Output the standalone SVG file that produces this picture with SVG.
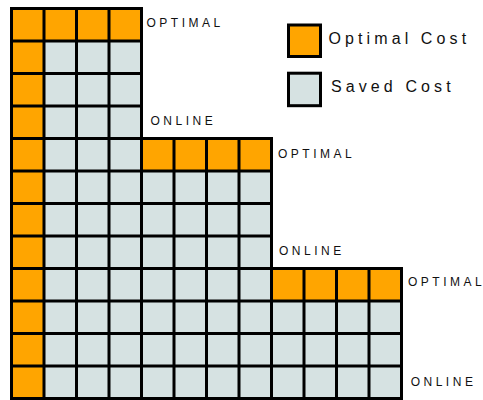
<svg xmlns="http://www.w3.org/2000/svg" width="483" height="400" viewBox="0 0 483 400">
<style>
.opt{fill:#FFA500}
.sav{fill:#D6E2E2}
.grid{fill:none;stroke:#000;stroke-width:3;stroke-linecap:square}
.lbl{font-family:"Liberation Sans",Arial,sans-serif;font-size:12px;letter-spacing:3.5px;fill:#111}
.leg{font-family:"Liberation Sans",Arial,sans-serif;font-size:16px;letter-spacing:4.1px;fill:#111}
.box{stroke:#000;stroke-width:3}
.last{letter-spacing:0}
</style>
<g id="grid">
<path class="sav" d="M11.5 8.5H141.5V138.5H271.5V268.5H401.5V398.5H11.5Z"/>
<rect class="opt" x="11.5" y="8.5" width="32.5" height="390"/>
<rect class="opt" x="11.5" y="8.5" width="130" height="32.5"/>
<rect class="opt" x="141.5" y="138.5" width="130" height="32.5"/>
<rect class="opt" x="271.5" y="268.5" width="130" height="32.5"/>
<path class="grid" d="M11.5 8.5H141.5M11.5 41H141.5M11.5 73.5H141.5M11.5 106H141.5M11.5 138.5H271.5M11.5 171H271.5M11.5 203.5H271.5M11.5 236H271.5M11.5 268.5H401.5M11.5 301H401.5M11.5 333.5H401.5M11.5 366H401.5M11.5 398.5H401.5
M11.5 8.5V398.5M44 8.5V398.5M76.5 8.5V398.5M109 8.5V398.5M141.5 8.5V398.5M174 138.5V398.5M206.5 138.5V398.5M239 138.5V398.5M271.5 138.5V398.5M304 268.5V398.5M336.5 268.5V398.5M369 268.5V398.5M401.5 268.5V398.5"/>
</g>
<g id="labels">
<text class="lbl" x="146.5" y="26.5">OPTIMA<tspan class="last">L</tspan></text>
<text class="lbl" x="150.5" y="124.5">ONLIN<tspan class="last">E</tspan></text>
<text class="lbl" x="278" y="157.5">OPTIMA<tspan class="last">L</tspan></text>
<text class="lbl" x="279" y="255">ONLIN<tspan class="last">E</tspan></text>
<text class="lbl" x="408" y="286">OPTIMA<tspan class="last">L</tspan></text>
<text class="lbl" x="410.7" y="385.5">ONLIN<tspan class="last">E</tspan></text>
</g>
<g id="legend-optimal">
<rect class="opt box" x="288.5" y="25" width="32" height="31.5"/>
<text class="leg" x="328.5" y="44">Optimal Cos<tspan class="last">t</tspan></text>
</g>
<g id="legend-saved">
<rect class="sav box" x="288.5" y="73.2" width="32" height="32.5"/>
<text class="leg" x="331" y="91.7">Saved Cos<tspan class="last">t</tspan></text>
</g>
</svg>
